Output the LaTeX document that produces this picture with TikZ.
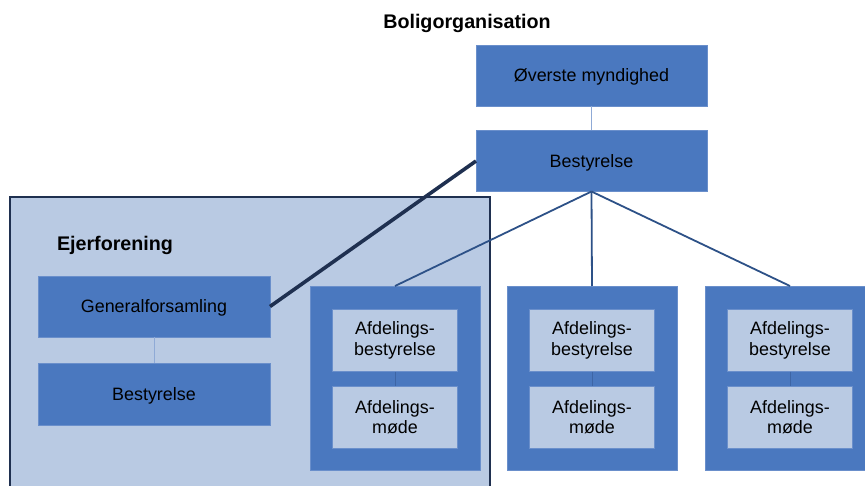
\documentclass[tikz,border=0pt]{standalone}
\usepackage{fontspec}
\setmainfont{Liberation Sans}
\definecolor{midblue}{HTML}{4A78BF}
\definecolor{edgeblue}{HTML}{6A8FCB}
\definecolor{lightfill}{HTML}{B9CAE3}
\definecolor{navy}{HTML}{1F3050}
\definecolor{linkblue}{HTML}{2D5187}
\definecolor{paleline}{HTML}{8FAAD6}
\definecolor{innerline}{HTML}{3D65A5}
\begin{document}
\begin{tikzpicture}[x=1pt,y=-1pt,
  every node/.style={inner sep=0pt,outer sep=0pt},
  bluebox/.style={draw=edgeblue,line width=0.6pt,fill=midblue,minimum width=231pt,minimum height=61pt,align=center,text height=16.5pt,text depth=3.8pt,font=\fontsize{17.9}{20.5}\selectfont},
  outerbox/.style={draw=edgeblue,line width=0.6pt,fill=midblue,minimum width=170pt,minimum height=184pt},
  innerbox/.style={draw=edgeblue,line width=0.6pt,fill=lightfill,minimum width=125pt,minimum height=62pt,align=center,font=\fontsize{17.9}{20.5}\selectfont},
  ejerbox/.style={draw=navy,line width=1.6pt,fill=lightfill,minimum width=480pt,minimum height=303pt},
  heading/.style={font=\fontsize{19.7}{22}\selectfont\bfseries},
  thinlink/.style={draw=paleline,line width=0.8pt},
  innerlink/.style={draw=innerline,line width=0.8pt},
  treelink/.style={draw=linkblue,line width=1.8pt},
  heavylink/.style={draw=navy,line width=3.6pt}
]
\useasboundingbox (0,0) rectangle (865,486);
\clip (0,0) rectangle (865,486);

\node[heading] (bolig) at (467,23.5) {Boligorganisation};
\node[bluebox] (top) at (591.5,75.5) {Øverste myndighed};
\node[bluebox] (best) at (591.5,161) {Bestyrelse};
\draw[thinlink] (top.south) -- (best.north);

\node[ejerbox] (ejer) at (250,348.5) {};
\node[heading,anchor=west] (ejerlabel) at (57,245.5) {Ejerforening};
\node[bluebox,minimum width=232pt] (gen) at (154,306.5) {Generalforsamling};
\node[bluebox,minimum width=232pt,minimum height=62pt] (ebest) at (154,394) {Bestyrelse};
\draw[thinlink] (gen.south) -- (ebest.north);

\foreach \i/\x in {1/395,2/592,3/790}{
  \node[outerbox] (o\i) at (\x,378) {};
  \node[innerbox] (b\i) at (\x,340.5) {Afdelings-\\bestyrelse};
  \node[innerbox] (m\i) at (\x,417) {Afdelings-\\møde};
  \draw[innerlink] (b\i.south) -- (m\i.north);
  \draw[treelink] (best.south) -- (o\i.north);
}

\draw[heavylink] (gen.east) -- (best.west);
\end{tikzpicture}
\end{document}
